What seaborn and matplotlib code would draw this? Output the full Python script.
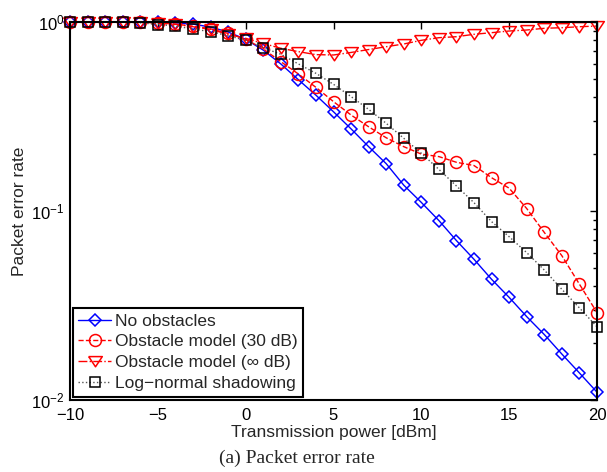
import numpy as np
import pandas as pd
import matplotlib
matplotlib.use("Agg")
import matplotlib.pyplot as plt
import seaborn as sns

x_dbm = list(range(-10, 21))

no_obstacles = [1.0, 1.0, 1.0, 1.0, 1.0, 0.995, 0.99, 0.975, 0.94, 0.885, 0.81,
                0.71, 0.60, 0.495, 0.41, 0.335, 0.272, 0.219, 0.178, 0.137, 0.111,
                0.089, 0.0697, 0.0555, 0.0435, 0.0349, 0.0276, 0.0222, 0.0175, 0.0139, 0.011]
obstacle_30db = [1.0, 1.0, 1.0, 1.0, 1.0, 0.99, 0.975, 0.95, 0.92, 0.87, 0.81,
                 0.72, 0.617, 0.531, 0.451, 0.379, 0.322, 0.279, 0.244, 0.219, 0.20,
                 0.194, 0.181, 0.174, 0.150, 0.132, 0.103, 0.077, 0.058, 0.041, 0.029]
obstacle_inf = [1.0, 1.0, 1.0, 1.0, 1.0, 0.985, 0.972, 0.944, 0.915, 0.86, 0.82,
                0.77, 0.726, 0.697, 0.672, 0.669, 0.69, 0.715, 0.74, 0.765, 0.80,
                0.826, 0.836, 0.861, 0.878, 0.896, 0.907, 0.926, 0.933, 0.944, 0.952]
lognormal = [1.0, 1.0, 1.0, 1.0, 0.99, 0.97, 0.952, 0.918, 0.889, 0.846, 0.80,
             0.731, 0.675, 0.60, 0.535, 0.468, 0.403, 0.345, 0.291, 0.2425, 0.202,
             0.166, 0.1356, 0.1106, 0.0878, 0.0731, 0.0602, 0.0487, 0.0385, 0.0307, 0.0244]

labels = ["No obstacles", "Obstacle model (30 dB)", "Obstacle model (\u221e dB)",
          "Log\u2212normal shadowing"]
xtick_vals = [-10, -5, 0, 5, 10, 15, 20]
xtick_labels = ["\u221210", "\u22125", "0", "5", "10", "15", "20"]

sns.set_style("white")
plt.rcParams['font.family'] = ['Liberation Sans', 'DejaVu Sans']
plt.rcParams['mathtext.fontset'] = 'custom'
plt.rcParams['mathtext.rm'] = 'Liberation Sans'
plt.rcParams['mathtext.it'] = 'Liberation Sans:italic'

fig = plt.figure(figsize=(6.07, 4.72), dpi=100)
ax = fig.add_axes([70/607, 1-400/472, (597-70)/607, (400-22)/472])

wide_tri = [(-1, 0.72), (1, 0.72), (0, -0.78), (-1, 0.72)]
styles = [
    dict(color="#0000ff", marker="D", linestyle="-", markersize=6.2),
    dict(color="#ff0000", marker="o", linestyle="--", markersize=8.6),
    dict(color="#ff0000", marker=wide_tri, linestyle="-.", markersize=9.8),
    dict(color="#000000", marker="s", linestyle=":", markersize=6.8),
]
series = [no_obstacles, obstacle_30db, obstacle_inf, lognormal]

for vals, lab, st in zip(series, labels, styles):
    line_color = st["color"] if st["color"] != "#000000" else "#555555"
    sns.lineplot(x=x_dbm, y=vals, ax=ax, color=line_color, marker=st["marker"],
                 linestyle=st["linestyle"], markersize=st["markersize"],
                 markerfacecolor="none", markeredgecolor=st["color"],
                 markeredgewidth=1.1, linewidth=1.0, label=lab, clip_on=False)

ax.set_yscale("log")
ax.set_xlim(-10, 20)
ax.set_ylim(1e-2, 1)
ax.set_xticks(xtick_vals)
ax.set_xticklabels(xtick_labels)
ax.tick_params(axis="both", which="both", direction="in", top=True, right=True,
               labelsize=12, colors="black")
ax.tick_params(axis="x", which="major", pad=6)
ax.tick_params(axis="y", which="major", pad=4)
ax.tick_params(which="major", length=5, width=1)
ax.tick_params(which="minor", length=3, width=1)
for sp in ax.spines.values():
    sp.set_linewidth(1.5)
    sp.set_color("black")

ax.set_xlabel("Transmission power [dBm]", fontsize=12.5, labelpad=1)
ax.set_ylabel("Packet error rate", fontsize=12.5, labelpad=3)

handles, hl = ax.get_legend_handles_labels()
leg = ax.legend(handles, hl, loc="lower left", bbox_to_anchor=(0.005, 0.009),
                fontsize=12.5, frameon=True, fancybox=False, framealpha=1,
                edgecolor="black", handlelength=1.9, handletextpad=0.2,
                borderpad=0.33, labelspacing=0.32, borderaxespad=0.0)
leg.get_frame().set_linewidth(1.5)

fig.text(297/607, 1-458/472, "(a) Packet error rate",
         family=["Liberation Serif", "DejaVu Serif"], fontsize=14,
         ha="center", va="center")

fig.savefig("out.png", dpi=100)
